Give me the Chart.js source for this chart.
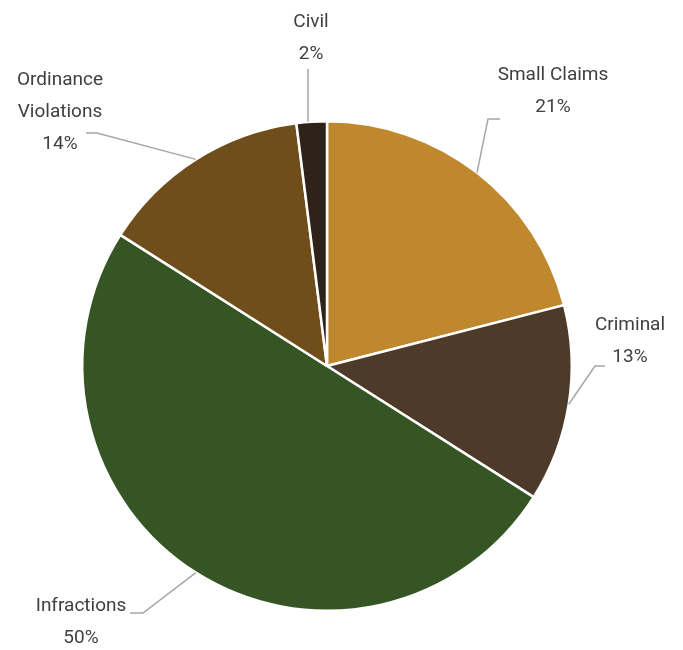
<!DOCTYPE html>
<html>
<head>
<meta charset="utf-8">
<script src="https://cdn.jsdelivr.net/npm/chart.js@4"></script>
<style>
  html, body { margin: 0; padding: 0; background: #ffffff; }
  #wrap { width: 683px; height: 650px; position: relative; }
</style>
</head>
<body>
<div id="wrap"><canvas id="caseChart"></canvas></div>
<script>
    var categories = ['Small Claims', 'Criminal', 'Infractions', 'Ordinance Violations', 'Civil'];
    var labelLines = [['Small Claims'], ['Criminal'], ['Infractions'], ['Ordinance', 'Violations'], ['Civil']];
    var shares = [21, 13, 50, 14, 2];
    var sliceColors = ['#C0882E', '#4E3A28', '#365524', '#6F4E1C', '#2E2219'];

    // where each label sits, relative to the pie centre (text x, first line y, elbow, line end)
    var labelLayout = [
        { tx: 226, ty: -291, ex: 161, ey: -247, hx: 173 },
        { tx: 303, ty: -41, ex: 268, ey: 0, hx: 278 },
        { tx: -246, ty: 240, ex: -184, ey: 247, hx: -197 },
        { tx: -267, ty: -286, ex: -230, ey: -233, hx: -241 },
        { tx: -16, ty: -344, ex: -19, ey: -297, hx: -19 }
    ];

    var calloutPlugin = {
        id: 'callouts',
        afterDatasetsDraw(chart) {
            var ctx = chart.ctx;
            var meta = chart.getDatasetMeta(0);
            ctx.save();
            meta.data.forEach(function (arc, i) {
                var p = arc.getProps(['x', 'y', 'startAngle', 'endAngle', 'outerRadius'], true);
                var mid = (p.startAngle + p.endAngle) / 2;
                var ax = p.x + Math.cos(mid) * p.outerRadius;
                var ay = p.y + Math.sin(mid) * p.outerRadius;
                var l = labelLayout[i];
                if (i === 4) { ax = p.x + l.ex; }
                ctx.strokeStyle = '#A6A6A6';
                ctx.lineWidth = 1.5;
                ctx.beginPath();
                ctx.moveTo(ax, ay);
                ctx.lineTo(p.x + l.ex, p.y + l.ey);
                ctx.lineTo(p.x + l.hx, p.y + l.ey);
                ctx.stroke();

                ctx.fillStyle = '#404040';
                ctx.font = '19px Roboto, "Liberation Sans", sans-serif';
                ctx.textAlign = 'center';
                ctx.textBaseline = 'middle';
                var lines = labelLines[i].concat([shares[i] + '%']);
                lines.forEach(function (t, k) {
                    ctx.fillText(t, p.x + l.tx, p.y + l.ty + k * 32);
                });
            });
            ctx.restore();
        }
    };

    var ctx = document.getElementById('caseChart').getContext('2d');
    var caseChart = new Chart(ctx, {
        type: 'pie',
        data: {
            labels: categories,
            datasets: [{
                data: shares,
                backgroundColor: sliceColors,
                borderColor: '#ffffff',
                borderWidth: 2.5
            }]
        },
        options: {
            responsive: true,
            maintainAspectRatio: false,
            animation: false,
            layout: { padding: { left: 60, right: 89, top: 120, bottom: 38 } },
            plugins: {
                legend: { display: false },
                tooltip: { enabled: false }
            }
        },
        plugins: [calloutPlugin]
    });
</script>
</body>
</html>
